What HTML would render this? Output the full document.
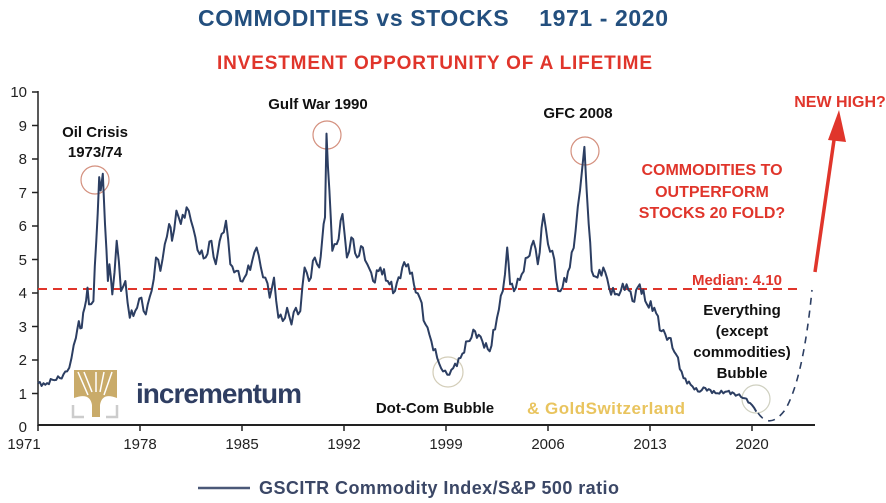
<!DOCTYPE html>
<html><head><meta charset="utf-8"><style>
html,body{margin:0;padding:0;background:#fff;}
svg{display:block;font-family:"Liberation Sans",Arial,sans-serif;}
</style></head><body>
<svg id="s" width="886" height="503" viewBox="0 0 886 503" xmlns="http://www.w3.org/2000/svg">
<rect width="886" height="503" fill="#fff"/>
<text x="198" y="26" font-size="23" font-weight="bold" fill="#234f7e" textLength="470">COMMODITIES vs STOCKS<tspan dx="30">1971 - 2020</tspan></text>
<text x="217" y="69" font-size="19" font-weight="bold" fill="#e0352b" textLength="435">INVESTMENT OPPORTUNITY OF A LIFETIME</text>
<g font-size="15" fill="#222" text-anchor="end">
<text x="27" y="97">10</text><text x="27" y="131">9</text><text x="27" y="164">8</text><text x="27" y="198">7</text><text x="27" y="231">6</text><text x="27" y="265">5</text><text x="27" y="298">4</text><text x="27" y="332">3</text><text x="27" y="365">2</text><text x="27" y="399">1</text><text x="27" y="432">0</text>
</g>
<line x1="38" y1="91" x2="38" y2="426" stroke="#222" stroke-width="1.5"/>
<g stroke="#222" stroke-width="1.5">
<line x1="32" y1="92" x2="38" y2="92"/><line x1="32" y1="125.5" x2="38" y2="125.5"/><line x1="32" y1="159" x2="38" y2="159"/><line x1="32" y1="192.5" x2="38" y2="192.5"/><line x1="32" y1="226" x2="38" y2="226"/><line x1="32" y1="259.5" x2="38" y2="259.5"/><line x1="32" y1="293" x2="38" y2="293"/><line x1="32" y1="326.5" x2="38" y2="326.5"/><line x1="32" y1="360" x2="38" y2="360"/><line x1="32" y1="393.5" x2="38" y2="393.5"/>
</g>
<line x1="38" y1="425" x2="815" y2="425" stroke="#222" stroke-width="2"/>
<g stroke="#222" stroke-width="1.5">
<line x1="38" y1="425" x2="38" y2="431"/><line x1="140" y1="425" x2="140" y2="431"/><line x1="242" y1="425" x2="242" y2="431"/><line x1="344" y1="425" x2="344" y2="431"/><line x1="446" y1="425" x2="446" y2="431"/><line x1="548" y1="425" x2="548" y2="431"/><line x1="650" y1="425" x2="650" y2="431"/><line x1="752" y1="425" x2="752" y2="431"/>
</g>
<g font-size="15" fill="#222" text-anchor="middle">
<text x="24" y="449">1971</text><text x="140" y="449">1978</text><text x="242" y="449">1985</text><text x="344" y="449">1992</text><text x="446" y="449">1999</text><text x="548" y="449">2006</text><text x="650" y="449">2013</text><text x="752" y="449">2020</text>
</g>
<line x1="38" y1="289" x2="797" y2="289" stroke="#e0352b" stroke-width="2" stroke-dasharray="9,6"/>
<g>
<path d="M74 370 L74 398 Q90 392 92 405 L92 417 L100 417 L100 405 Q102 392 117 398 L117 370 Z" fill="#c9ab6a"/>
<path d="M78 372 L88 395 M84 372 L92 392 M96 372 L96 392 M104 372 L100 392 M112 372 L104 395" stroke="#fff" stroke-width="1.5"/>
<path d="M73 405 L73 417 L84 417 M117 405 L117 417 L106 417" stroke="#ccc" stroke-width="2.5" fill="none"/>
</g>
<text x="136" y="403" font-size="28" fill="#2f3e62" font-weight="bold" textLength="166">incrementum</text>
<circle cx="95" cy="180" r="14" fill="none" stroke="#d4907e" stroke-width="1.2"/>
<circle cx="327" cy="135" r="14" fill="none" stroke="#d4907e" stroke-width="1.2"/>
<circle cx="585" cy="151" r="14" fill="none" stroke="#d4907e" stroke-width="1.2"/>
<circle cx="448" cy="372" r="15" fill="none" stroke="#d3cdb8" stroke-width="1.2"/>
<circle cx="756" cy="399" r="14" fill="none" stroke="#cfd0c0" stroke-width="1.2"/>
<polyline id="series" fill="none" stroke="#2c3e62" stroke-width="2" stroke-linejoin="round" points=""/>
<path d="M758 413 Q770 430 785 410 Q803 380 812 290" fill="none" stroke="#2c3e62" stroke-width="1.6" stroke-dasharray="7,6"/>
<line x1="815" y1="272" x2="834" y2="140" stroke="#e0352b" stroke-width="3.5"/>
<polygon points="839,110 828,140 846,142" fill="#e0352b"/>
<g font-weight="bold" fill="#111" font-size="15" text-anchor="middle">
<text x="95" y="137">Oil Crisis</text><text x="95" y="157">1973/74</text>
<text x="318" y="109">Gulf War 1990</text>
<text x="578" y="118">GFC 2008</text>
<text x="435" y="413">Dot-Com Bubble</text>
<text x="742" y="315">Everything</text><text x="742" y="336">(except</text><text x="742" y="357">commodities)</text><text x="742" y="378">Bubble</text>
</g>
<g font-weight="bold" fill="#e0352b" font-size="16" text-anchor="middle">
<text x="712" y="175">COMMODITIES TO</text><text x="712" y="197">OUTPERFORM</text><text x="712" y="218">STOCKS 20 FOLD?</text>
<text x="840" y="107">NEW HIGH?</text>
</g>
<text x="782" y="285" font-weight="bold" fill="#e0352b" font-size="15" text-anchor="end">Median: 4.10</text>
<text x="527" y="414" font-weight="bold" fill="#e9c45e" font-size="17" textLength="158">&amp; GoldSwitzerland</text>
<line x1="198" y1="488" x2="250" y2="488" stroke="#4a5878" stroke-width="2.5"/>
<text x="259" y="494" font-weight="bold" fill="#3b4766" font-size="18" textLength="360">GSCITR Commodity Index/S&amp;P 500 ratio</text>
</svg>
<script>
var d=[[1971,1.25],[1971.5,1.2],[1972,1.35],[1972.5,1.4],[1973,1.6],[1973.3,2.0],[1973.6,2.6],[1973.8,3.1],[1974,2.9],[1974.2,3.5],[1974.4,4.1],[1974.5,3.6],[1974.8,3.7],[1975,5.5],[1975.2,7.4],[1975.3,7.0],[1975.45,7.5],[1975.6,6.0],[1975.8,4.3],[1975.9,4.8],[1976.1,3.9],[1976.4,5.5],[1976.7,4.0],[1977,4.3],[1977.3,3.2],[1977.8,3.5],[1978.1,3.8],[1978.4,3.3],[1978.8,4.0],[1979.1,5.0],[1979.4,4.6],[1979.7,5.4],[1980,6.0],[1980.2,5.5],[1980.5,6.4],[1980.8,6.0],[1981.2,6.5],[1981.5,6.1],[1981.8,5.6],[1982.1,5.1],[1982.5,5.0],[1982.9,5.5],[1983.2,4.8],[1983.6,5.7],[1983.9,6.1],[1984.2,4.8],[1984.6,4.6],[1984.9,4.3],[1985.3,4.5],[1985.7,4.9],[1986,5.3],[1986.3,4.7],[1986.6,4.4],[1986.9,3.8],[1987.2,4.4],[1987.5,3.2],[1987.8,3.1],[1988.1,3.5],[1988.4,3.0],[1988.7,3.5],[1989,3.4],[1989.3,4.7],[1989.6,4.3],[1990,5.0],[1990.3,4.7],[1990.5,5.5],[1990.7,6.2],[1990.8,8.7],[1991.0,7.0],[1991.2,5.2],[1991.5,5.4],[1991.9,6.3],[1992.2,5.0],[1992.5,5.6],[1992.9,5.0],[1993.3,5.3],[1993.6,4.8],[1994,4.3],[1994.5,4.7],[1995,4.3],[1995.5,4.0],[1996,4.7],[1996.4,4.8],[1996.8,4.2],[1997.2,3.8],[1997.6,3.0],[1998.0,2.5],[1998.4,2.0],[1998.8,1.6],[1999.1,1.5],[1999.5,1.7],[2000,2.0],[2000.5,2.5],[2001,2.8],[2001.5,2.5],[2002,2.2],[2002.5,3.2],[2002.9,4.0],[2003.2,5.3],[2003.4,4.2],[2003.8,4.1],[2004.2,4.5],[2004.6,5.0],[2005,5.5],[2005.3,4.8],[2005.7,6.3],[2006,5.4],[2006.3,5.2],[2006.7,4.0],[2007,4.1],[2007.5,4.7],[2007.9,5.8],[2008.2,7.0],[2008.5,8.3],[2008.8,6.0],[2009,4.6],[2009.4,4.4],[2009.8,4.7],[2010.2,4.1],[2010.6,3.9],[2011,4.0],[2011.4,4.2],[2011.8,3.7],[2012.3,4.2],[2012.8,3.6],[2013.3,3.5],[2013.8,2.8],[2014.3,2.6],[2014.8,2.1],[2015.3,1.4],[2015.8,1.2],[2016.3,1.0],[2016.8,1.1],[2017.5,0.95],[2018.3,1.0],[2019,0.9],[2019.5,0.8],[2020,0.6],[2020.3,0.4]];
var p=[],k=0;
for(var i=0;i<d.length-1;i++){var a=d[i],b=d[i+1],n=Math.max(1,Math.round((b[0]-a[0])*8));
for(var j=0;j<n;j++){var t=j/n,yr=a[0]+(b[0]-a[0])*t,v=a[1]+(b[1]-a[1])*t;
if(j>0){k++;v+=0.15*Math.sin(k*2.3)*Math.min(1,v/3);}
p.push((38+14.57*(yr-1971)).toFixed(1)+","+(425-33.5*v).toFixed(1));}}
var l=d[d.length-1];p.push((38+14.57*(l[0]-1971)).toFixed(1)+","+(425-33.5*l[1]).toFixed(1));
document.getElementById("series").setAttribute("points",p.join(" "));
</script>
</body></html>
